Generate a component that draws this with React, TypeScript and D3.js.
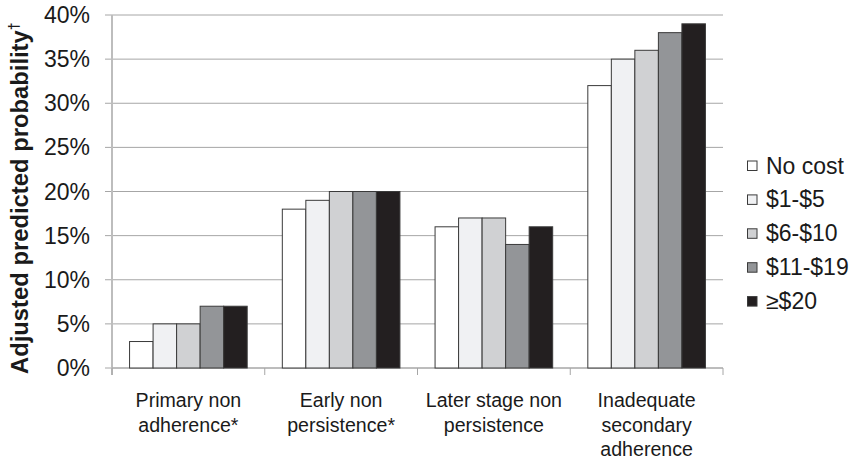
import React from "react";
import * as d3 from "d3";

const categories = [
  ["Primary non", "adherence*"],
  ["Early non", "persistence*"],
  ["Later stage non", "persistence"],
  ["Inadequate", "secondary", "adherence"],
];
const seriesNames = ["No cost", "$1-$5", "$6-$10", "$11-$19", "≥$20"];
const seriesColors = ["#ffffff", "#f0f1f3", "#d0d1d3", "#939598", "#231f20"];
const values = [
  [3, 5, 5, 7, 7],
  [18, 19, 20, 20, 20],
  [16, 17, 17, 14, 16],
  [32, 35, 36, 38, 39],
];
const yTicks = [0, 5, 10, 15, 20, 25, 30, 35, 40];

export default function App() {
  const W = 858, H = 464;
  const left = 112, right = 723, top = 15, bottom = 368;
  const y = d3.scaleLinear().domain([0, 40]).range([bottom, top]);
  const x0 = d3.scaleBand<number>().domain(d3.range(categories.length)).range([left, right]).padding(0);
  const bw = x0.bandwidth();
  const groupW = bw * 0.77;
  const x1 = d3.scaleBand<number>().domain(d3.range(seriesNames.length)).range([0, groupW]).padding(0);
  const font = "'Liberation Sans', Arial, sans-serif";
  return (
    <svg width={W} height={H} style={{ position: "absolute", left: 0, top: 0 }} fontFamily={font}>
      <rect width={W} height={H} fill="#fff" />
      {yTicks.map((t) => (
        <g key={t}>
          <line x1={left - 7} x2={right} y1={y(t)} y2={y(t)} stroke="#a6a6a6" strokeWidth={1} />
          <text x={90} y={y(t)} dy="0.35em" textAnchor="end" fontSize={23} fill="#1a1a1a">{t}%</text>
        </g>
      ))}
      <line x1={left} x2={left} y1={top} y2={bottom + 7} stroke="#bdbdbd" strokeWidth={2} />
      {d3.range(categories.length + 1).map((i) => {
        const xx = i < categories.length ? x0(i)! : right;
        return <line key={i} x1={xx} x2={xx} y1={bottom} y2={bottom + 7} stroke="#a6a6a6" strokeWidth={1} />;
      })}
      <line x1={left} x2={right} y1={bottom} y2={bottom} stroke="#a6a6a6" strokeWidth={1} />
      {values.map((row, ci) => {
        const gx = x0(ci)! + (bw - groupW) / 2;
        return (
          <g key={ci}>
            {row.map((v, si) => (
              <rect key={si} x={gx + x1(si)!} y={y(v)} width={x1.bandwidth()} height={bottom - y(v)}
                fill={seriesColors[si]} stroke="#3a3a3a" strokeWidth={1} />
            ))}
            {categories[ci].map((line, li) => (
              <text key={li} x={x0(ci)! + bw / 2} y={407 + li * 24.5}
                textAnchor="middle" fontSize={19.6} fill="#1a1a1a">{line}</text>
            ))}
          </g>
        );
      })}
      <text transform={`translate(27.5,374) rotate(-90)`} textAnchor="start" fontSize={23.8} fontWeight="bold" fill="#1a1a1a">
        Adjusted predicted probability<tspan dy={-9} fontSize={14}>†</tspan>
      </text>
      {seriesNames.map((n, i) => {
        const cy = 165.5 + i * 33.9;
        return (
          <g key={n}>
            <rect x={747.5} y={cy - 4.5} width={9.5} height={9.5} fill={seriesColors[i]} stroke="#3a3a3a" strokeWidth={1} />
            <text x={766} y={cy} dy="0.35em" fontSize={23} fill="#1a1a1a">{n}</text>
          </g>
        );
      })}
    </svg>
  );
}
